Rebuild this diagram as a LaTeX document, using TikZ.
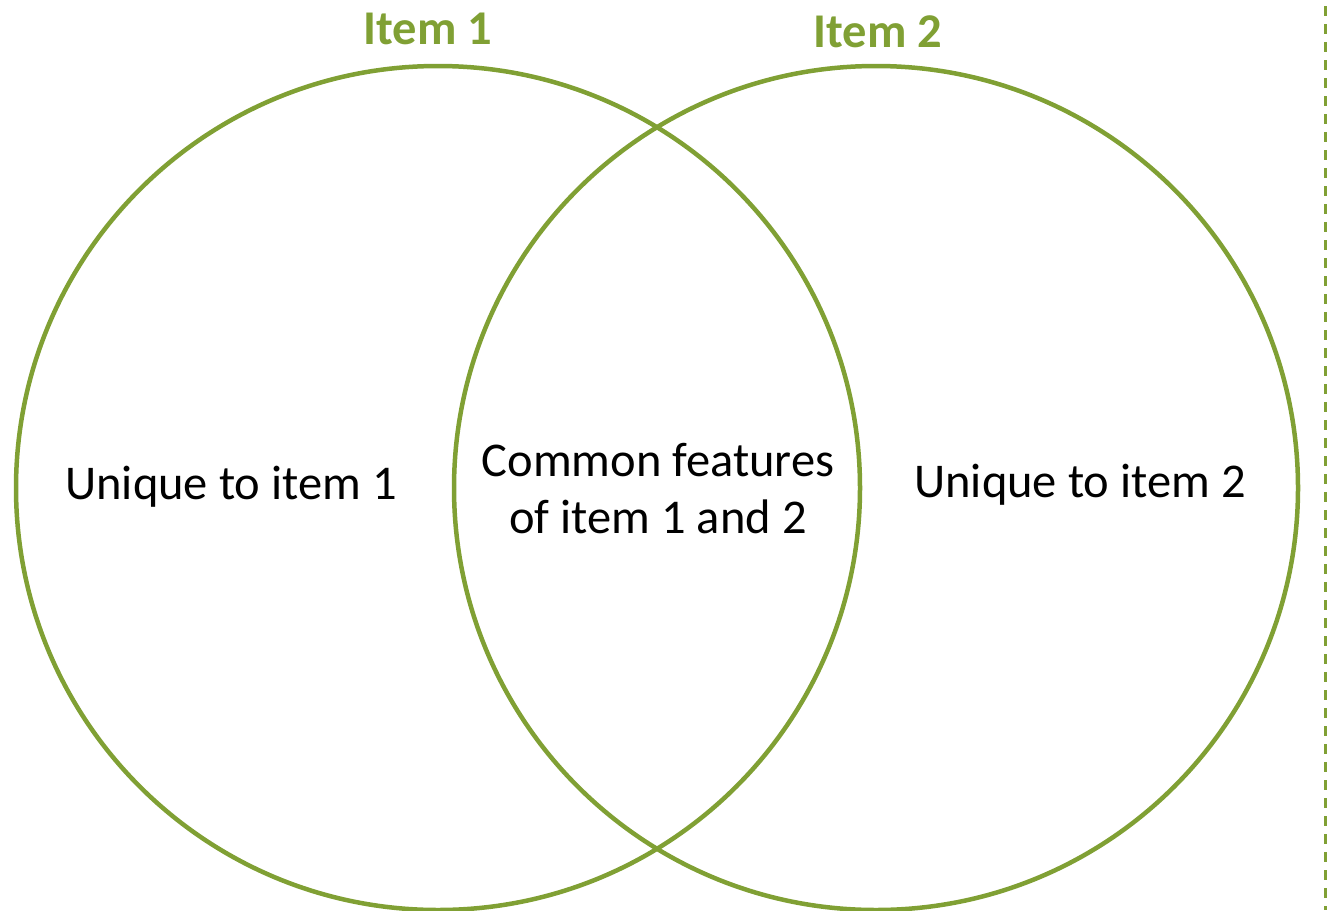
\documentclass[tikz,border=0pt]{standalone}
\usepackage{fontspec}
\setmainfont{Carlito}
\definecolor{vgreen}{RGB}{128,160,52}
\begin{document}
\begin{tikzpicture}[x=1pt,y=-1pt,
  ring/.style={circle,draw=vgreen,line width=4.5pt,minimum size=844pt,inner sep=0pt},
  lbl/.style={font=\fontsize{48.5}{57}\selectfont,align=center,inner sep=0pt},
  ttl/.style={font=\fontsize{48.5}{57}\selectfont\bfseries,text=vgreen,inner sep=0pt}]
\useasboundingbox (0,0) rectangle (1337,910);
\node[ring] (c1) at (438,488) {};
\node[ring] (c2) at (876,488) {};
\node[ttl,anchor=base] (t1) at (428,44) {Item 1};
\node[ttl,anchor=base] (t2) at (878,47) {Item 2};
\node[lbl] (u1) at (231,487) {Unique to item 1};
\node[lbl] (u2) at (1080,485) {Unique to item 2};
\node[lbl] (cm) at (658,489) {Common features\\of item 1 and 2};
\coordinate (dtop) at (1325,6);
\coordinate (dbot) at (1325,910);
\draw[vgreen,line width=3pt,dash pattern=on 10pt off 8pt] (dtop) -- (dbot);
\end{tikzpicture}
\end{document}
